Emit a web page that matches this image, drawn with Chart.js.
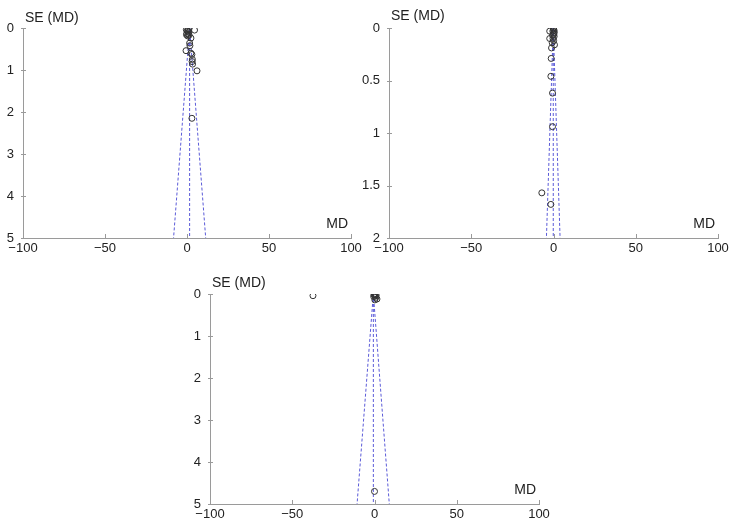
<!DOCTYPE html>
<html>
<head>
<meta charset="utf-8">
<script src="https://cdn.jsdelivr.net/npm/chart.js@4"></script>
<style>
  body { margin: 0; background: #fff; }
  #wrap { position: relative; width: 736px; height: 530px; }
  #wrap canvas { position: absolute; left: 0; top: 0; }
</style>
</head>
<body>
<div id="wrap">
  <canvas id="plot1" width="736" height="530"></canvas>
  <canvas id="plot2" width="736" height="530"></canvas>
  <canvas id="plot3" width="736" height="530"></canvas>
</div>
<script>
// x axis ticks shared by all three funnel plots
const mdTicks = [-100, -50, 0, 50, 100];

// Panel 1 (top left) - studies: MD and SE(MD)
const p1MD = [4.6, -0.4, 0.2, 0.6, 1.0, -0.1, 0.8, 1.3, 0.4, -0.3, 0.9, 2.4, 1.6, 1.8, -0.6, 2.4, 3.0, 3.3, 3.1, 3.4, 6.1, 3.0];
const p1SE = [0.05, 0.04, 0.06, 0.08, 0.1, 0.13, 0.15, 0.17, 0.19, 0.16, 0.03, 0.24, 0.36, 0.42, 0.54, 0.6, 0.63, 0.75, 0.8, 0.86, 1.02, 2.15];
const p1Center = [1.6, 1.6];
const p1Left = [1.6, -8.2];
const p1Right = [1.6, 11.4];
const p1Ticks = [0, 1, 2, 3, 4, 5];

// Panel 2 (top right)
const p2MD = [-0.2, 0.0, 0.3, -0.4, 0.5, -0.1, 0.2, -0.6, 0.4, -0.3, 0.1, -2.3, -2.3, -0.8, 0.6, -1.2, -1.4, -1.6, -0.6, -0.6, -7.1, -1.6];
const p2SE = [0.0, 0.01, 0.02, 0.03, 0.04, 0.05, 0.06, 0.07, 0.08, 0.1, 0.12, 0.03, 0.1, 0.14, 0.16, 0.19, 0.29, 0.46, 0.62, 0.94, 1.57, 1.68];
const p2Center = [-0.15, -0.15];
const p2Left = [-0.15, -4.3];
const p2Right = [-0.15, 4.0];
const p2Ticks = [0, 0.5, 1, 1.5, 2];

// Panel 3 (bottom)
const p3MD = [-37.4, 0.0, 0.5, -0.3, 1.0, 0.3, -0.5, 0.8, 1.5, 0.2, 0.0];
const p3SE = [0.04, 0.0, 0.01, 0.02, 0.03, 0.05, 0.06, 0.08, 0.12, 0.14, 4.7];
const p3Center = [-0.7, -0.7];
const p3Left = [-0.7, -10.6];
const p3Right = [-0.7, 9.0];
const p3Ticks = [0, 1, 2, 3, 4, 5];

const FONT = "'Liberation Sans', Arial, sans-serif";
const AXIS_GREY = '#9a9a9a';
const FUNNEL_BLUE = '#5a5ad8';

function toPoints(xs, ys) {
    return xs.map((x, i) => ({ x: x, y: ys[i] }));
}

function fmtMinus(v) {
    return v < 0 ? '\u2212' + Math.abs(v) : String(v);
}

// inward tick marks + the two axis captions
const decoPlugin = {
    id: 'deco',
    afterDraw(chart, args, opts) {
        const ctx = chart.ctx;
        const a = chart.chartArea;
        const xs = chart.scales.x, ys = chart.scales.y;
        ctx.save();
        ctx.strokeStyle = AXIS_GREY;
        ctx.lineWidth = 1;
        ctx.beginPath();
        xs.ticks.forEach(t => {
            const px = Math.round(xs.getPixelForValue(t.value)) + 0.5;
            ctx.moveTo(px, a.bottom);
            ctx.lineTo(px, a.bottom - 4);
        });
        ys.ticks.forEach(t => {
            const py = Math.round(ys.getPixelForValue(t.value)) + 0.5;
            ctx.moveTo(a.left - 2, py);
            ctx.lineTo(a.left + 3, py);
        });
        ctx.stroke();

        ctx.fillStyle = '#222';
        ctx.font = '14px ' + FONT;
        ctx.textBaseline = 'middle';
        ctx.textAlign = 'left';
        ctx.fillText('SE (MD)', a.left + 2, a.top - opts.seGap);
        ctx.textAlign = 'right';
        ctx.fillText('MD', a.right - 3, a.bottom - 14);
        ctx.restore();
    }
};

function funnelLine(xs, seMax) {
    return {
        data: toPoints(xs, [0, seMax]),
        showLine: true,
        pointRadius: 0,
        borderColor: FUNNEL_BLUE,
        backgroundColor: FUNNEL_BLUE,
        borderWidth: 1,
        borderDash: [3, 2]
    };
}

function makeFunnel(id, box, md, se, center, left, right, yTicks, seMax) {
    const yWidth = Math.min(box.left, 45), xHeight = 22;
    return new Chart(document.getElementById(id), {
        type: 'scatter',
        data: {
            datasets: [
                {
                    data: toPoints(md, se),
                    pointRadius: 3,
                    pointBorderWidth: 1,
                    pointBorderColor: '#333',
                    pointBackgroundColor: 'rgba(0,0,0,0)'
                },
                funnelLine(center, seMax),
                funnelLine(left, seMax),
                funnelLine(right, seMax)
            ]
        },
        options: {
            responsive: false,
            animation: false,
            events: [],
            layout: {
                padding: {
                    left: box.left - yWidth,
                    top: box.top,
                    right: 736 - box.right,
                    bottom: 530 - box.bottom - xHeight
                }
            },
            plugins: {
                legend: { display: false },
                tooltip: { enabled: false },
                deco: { seGap: box.seGap }
            },
            scales: {
                x: {
                    type: 'linear',
                    min: -100, max: 100,
                    afterFit: s => { s.height = xHeight; },
                    afterBuildTicks: s => { s.ticks = mdTicks.map(v => ({ value: v })); },
                    grid: { display: false, drawTicks: false },
                    border: { display: true, color: AXIS_GREY, width: 1 },
                    ticks: {
                        padding: 3,
                        color: '#222',
                        font: { family: FONT, size: 13 },
                        maxRotation: 0,
                        callback: v => fmtMinus(v)
                    }
                },
                y: {
                    type: 'linear',
                    reverse: true,
                    min: 0, max: seMax,
                    afterFit: s => { s.width = yWidth; },
                    afterBuildTicks: s => { s.ticks = yTicks.map(v => ({ value: v })); },
                    grid: { display: false, drawTicks: false },
                    border: { display: true, color: AXIS_GREY, width: 1 },
                    ticks: {
                        padding: 9,
                        color: '#222',
                        font: { family: FONT, size: 13 },
                        callback: v => String(v)
                    }
                }
            }
        },
        plugins: [decoPlugin]
    });
}

makeFunnel('plot1', { left: 23, right: 351, top: 28, bottom: 238, seGap: 10 },
    p1MD, p1SE, p1Center, p1Left, p1Right, p1Ticks, 5);
makeFunnel('plot2', { left: 389, right: 718, top: 28, bottom: 238, seGap: 12 },
    p2MD, p2SE, p2Center, p2Left, p2Right, p2Ticks, 2);
makeFunnel('plot3', { left: 210, right: 539, top: 294, bottom: 504, seGap: 11 },
    p3MD, p3SE, p3Center, p3Left, p3Right, p3Ticks, 5);
</script>
</body>
</html>
